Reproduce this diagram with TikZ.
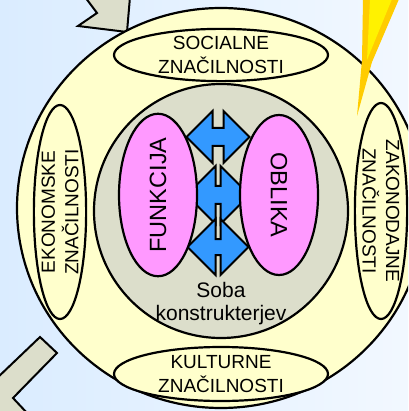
\documentclass[tikz,border=0pt]{standalone}
\usepackage{fontspec}
\setmainfont{Liberation Sans}
\usetikzlibrary{shapes.geometric}
\definecolor{bgleft}{HTML}{DAECFF}
\definecolor{bgright}{HTML}{F2F8FF}
\definecolor{cream}{HTML}{FFFFCC}
\definecolor{sage}{HTML}{DCDECB}
\definecolor{orchid}{HTML}{FF99FF}
\definecolor{sky}{HTML}{3399FF}
\definecolor{gold}{HTML}{FFCC00}
\begin{document}
\begin{tikzpicture}[x=1pt,y=-1pt,
  rim/.style={draw=black, line width=2.2pt},
  trait/.style={ellipse, rim, fill=cream, inner sep=0pt, align=center, font=\fontsize{19}{23.5}\selectfont},
  aspect/.style={ellipse, rim, fill=orchid, inner sep=0pt, font=\fontsize{23.5}{28}\selectfont},
  twin/.style={draw=black, line width=2pt, fill=sky}]
\useasboundingbox (0,0) rectangle (408,411);
\clip (0,0) rectangle (408,411);
\shade[left color=bgleft, right color=bgright] (0,0) rectangle (408,411);
% grey arrows
\draw[rim, line width=2pt, fill=sage] (85,-3) -- (97,13) -- (78,26) -- (127,32) -- (130,-3);
\draw[rim, line width=2pt, fill=sage] (-5,380) -- (40,337) -- (57,353) -- (13,398) -- (28,414) -- (-5,414);
% outer ring and the room
\draw[rim, fill=cream] (221,208) ellipse [x radius=204, y radius=200];
\draw[rim, fill=sage] (221,211) circle [radius=127];
% the flash
\fill[gold] (363,-1) -- (399,-1) -- (372,62) -- (357,116) -- (362,60) -- cycle;
\fill[yellow] (370,-1) -- (392,-1) -- (367,60) -- cycle;
\node[trait, minimum width=214, minimum height=50] (socialne) at (221,55) {SOCIALNE\\ZNAČILNOSTI};
\node[trait, minimum width=214, minimum height=54] (kulturne) at (221,374) {KULTURNE\\ZNAČILNOSTI};
\node[trait, minimum width=214, minimum height=49, rotate=90] (ekonomske) at (60,212) {EKONOMSKE\\ZNAČILNOSTI};
\node[trait, minimum width=216, minimum height=47, rotate=-90] (zakonodajne) at (381,211) {ZAKONODAJNE\\ZNAČILNOSTI};
% double arrows between the two
\foreach \cy/\h/\s/\t in {137/26/5.5/9, 195/29/2.5/9, 247/28/2.5/8}
  \draw[twin] (218-\s-\h,\cy) -- (218-\s,\cy-\h) -- (218-\s,\cy-\t) -- (218+\s,\cy-\t)
    -- (218+\s,\cy-\h) -- (218+\s+\h,\cy) -- (218+\s,\cy+\h) -- (218+\s,\cy+\t)
    -- (218-\s,\cy+\t) -- (218-\s,\cy+\h) -- cycle;
\node[aspect, minimum width=160, minimum height=78, rotate=90] (funkcija) at (158,195) {FUNKCIJA};
\node[aspect, minimum width=160, minimum height=78, rotate=-90] (oblika) at (279,195) {OBLIKA};
\node[align=center, inner sep=0pt, font=\fontsize{21}{23}\selectfont] (soba) at (221,304) {Soba\\konstrukterjev};
\end{tikzpicture}
\end{document}
